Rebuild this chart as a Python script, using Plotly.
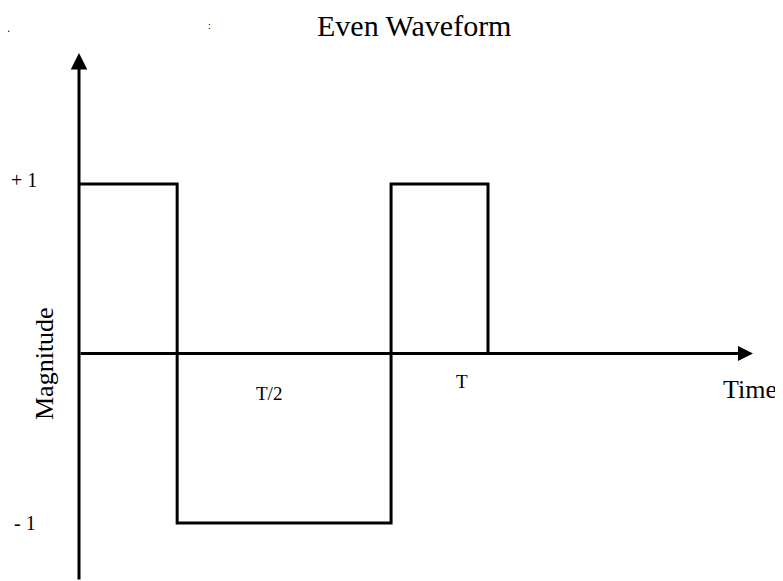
import plotly.graph_objects as go

# ---- data (time in units of the period T, magnitude in units) ----
switch_times = [0.0, 0.24, 0.763, 1.0]   # instants where the level changes
levels = [1, -1, 1, 0]                   # level held from each instant
title_text = "Even Waveform"
x_title = "Time"
y_title = "Magnitude"
time_tick_labels = ["T/2", "T"]
level_tick_labels = ["+ 1", "- 1"]

OFF = 8                      # default page body margin
W, H = 783 - OFF, 581 - OFF  # figure size so the page fills the window
FONT = "Liberation Serif, Times New Roman, serif"

def px(x):
    return (x - OFF) / W

def py(y):
    return 1 - (y - OFF) / H

# pixel scale (window coordinates): t=0 at x=79, t=T at x=488; level 0 at y=353.5, +-1 at +-169.5 px
SX, X0 = 409.0, 79.0
SY, Y0 = 169.5, 353.5

fig = go.Figure()
fig.add_trace(go.Scatter(
    x=switch_times, y=levels, mode="lines", line_shape="hv",
    line=dict(color="black", width=3), showlegend=False, hoverinfo="skip"))

xmin = -(X0 - OFF) / SX
ymax = (Y0 - OFF) / SY
fig.update_layout(
    width=W, height=H, margin=dict(l=0, r=0, t=0, b=0),
    paper_bgcolor="white", plot_bgcolor="white",
    xaxis=dict(range=[xmin, xmin + W / SX], visible=False, fixedrange=True),
    yaxis=dict(range=[ymax - H / SY, ymax], visible=False, fixedrange=True),
)

# axes with arrowheads
fig.add_annotation(x=0, y=(Y0 - 53) / SY, ax=0, ay=ymax - H / SY,
                   xref="x", yref="y", axref="x", ayref="y", text="", showarrow=True,
                   arrowhead=2, arrowsize=1.1, arrowwidth=3, arrowcolor="black", standoff=0)
fig.add_annotation(x=(753 - X0) / SX, y=0, ax=0, ay=0,
                   xref="x", yref="y", axref="x", ayref="y", text="", showarrow=True,
                   arrowhead=2, arrowsize=1.0, arrowwidth=3, arrowcolor="black", standoff=0)

def label(text, x, y, size, angle=0):
    fig.add_annotation(x=px(x), y=py(y), xref="paper", yref="paper", text=text,
                       showarrow=False, xanchor="center", yanchor="middle", textangle=angle,
                       font=dict(family=FONT, size=size, color="black"))

label(title_text, 414, 25, 30)
label(x_title, 750, 389, 26)
label(y_title, 44, 364, 26, angle=-90)
label(level_tick_labels[0], 24, 180, 20)
label(level_tick_labels[1], 25, 523, 20)
label(time_tick_labels[0], 269, 393, 19)
label(time_tick_labels[1], 462, 381, 19)
label(".", 8, 28, 12)
label(":", 210, 25, 10)

fig.write_html("out.html")
